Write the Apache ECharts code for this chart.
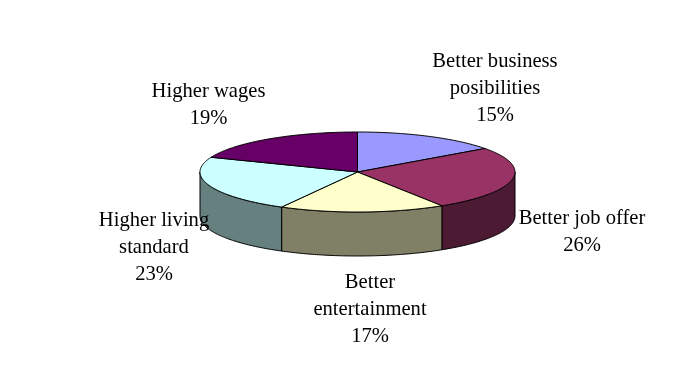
<!DOCTYPE html>
<html>
<head>
<meta charset="utf-8">
<script src="https://cdn.jsdelivr.net/npm/echarts@6/dist/echarts.min.js"></script>
<style>
  html, body { margin: 0; padding: 0; background: #ffffff; }
  #chart { width: 696px; height: 377px; }
</style>
</head>
<body>
<div id="chart"></div>
<script>
// Reasons for moving, share of answers (%)
const categories = [
  'Better business\nposibilities',
  'Better job offer',
  'Better\nentertainment',
  'Higher living\nstandard',
  'Higher wages'
];
const values = [15, 26, 17, 23, 19];

// Slice colours: top face and darker side wall
const topColors  = ['#9999FF', '#993366', '#FFFFCC', '#CCFFFF', '#660066'];
const sideColors = ['#4D4D80', '#4D1A33', '#808066', '#668080', '#330033'];

// Tilted-disc geometry (pixels)
const PIE = { cx: 357.5, cy: 172, rx: 157.5, ry: 40, depth: 44 };
// Centre of each label block (pixels)
const labelAnchors = [[495, 89], [582, 232], [370, 310], [154, 248], [208.5, 105.5]];

const total = values.reduce((a, b) => a + b, 0);
const sliceData = [];
let acc = 0;
values.forEach((v) => {
  sliceData.push([1, acc, acc + v]);
  acc += v;
});

const K = PIE.ry / PIE.rx;
const STEP = 0.2;

function renderSlice(params, api) {
  const i = params.dataIndex;
  const s = api.value(1);
  const e = api.value(2);
  const c = api.coord([0, 0]);
  // point on the rim: the polar angle axis maps the value to an angle,
  // then the circle is flattened into an ellipse
  const rim = (a, dy) => {
    const p = api.coord([1, a]);
    return [p[0], c[1] + (p[1] - c[1]) * K + dy];
  };
  const arc = (a0, a1, dy) => {
    const pts = [];
    const n = Math.max(2, Math.ceil(Math.abs(a1 - a0) / STEP));
    for (let j = 0; j <= n; j++) pts.push(rim(a0 + (a1 - a0) * j / n, dy));
    return pts;
  };
  const children = [];

  // front wall: only the lower half of the rim faces the viewer
  const lo = Math.max(s, total / 4);
  const hi = Math.min(e, total * 3 / 4);
  if (lo < hi) {
    const pts = arc(lo, hi, 0).concat(arc(hi, lo, PIE.depth));
    children.push({
      type: 'polygon',
      z2: 1,
      shape: { points: pts },
      style: { fill: sideColors[i], stroke: '#000', lineWidth: 1 }
    });
  }

  // top face
  children.push({
    type: 'polygon',
    z2: 10,
    shape: { points: [[c[0], c[1]]].concat(arc(s, e, 0)) },
    style: { fill: topColors[i], stroke: '#000', lineWidth: 1, lineJoin: 'round' }
  });

  // label
  children.push({
    type: 'text',
    z2: 20,
    style: {
      text: categories[i] + '\n' + values[i] + '%',
      x: labelAnchors[i][0],
      y: labelAnchors[i][1],
      textAlign: 'center',
      textVerticalAlign: 'middle',
      fontFamily: '"Liberation Serif", "Times New Roman", serif',
      fontSize: 20.6,
      lineHeight: 27,
      fill: '#000'
    }
  });

  return { type: 'group', children: children };
}

const chart = echarts.init(document.getElementById('chart'), null, { renderer: 'canvas' });
chart.setOption({
  animation: false,
  backgroundColor: '#ffffff',
  polar: { center: [PIE.cx, PIE.cy], radius: PIE.rx },
  angleAxis: {
    type: 'value', min: 0, max: total, startAngle: 90, clockwise: true,
    show: false
  },
  radiusAxis: { type: 'value', min: 0, max: 1, show: false },
  series: [{
    type: 'custom',
    coordinateSystem: 'polar',
    renderItem: renderSlice,
    data: sliceData,
    silent: true
  }]
});
</script>
</body>
</html>
